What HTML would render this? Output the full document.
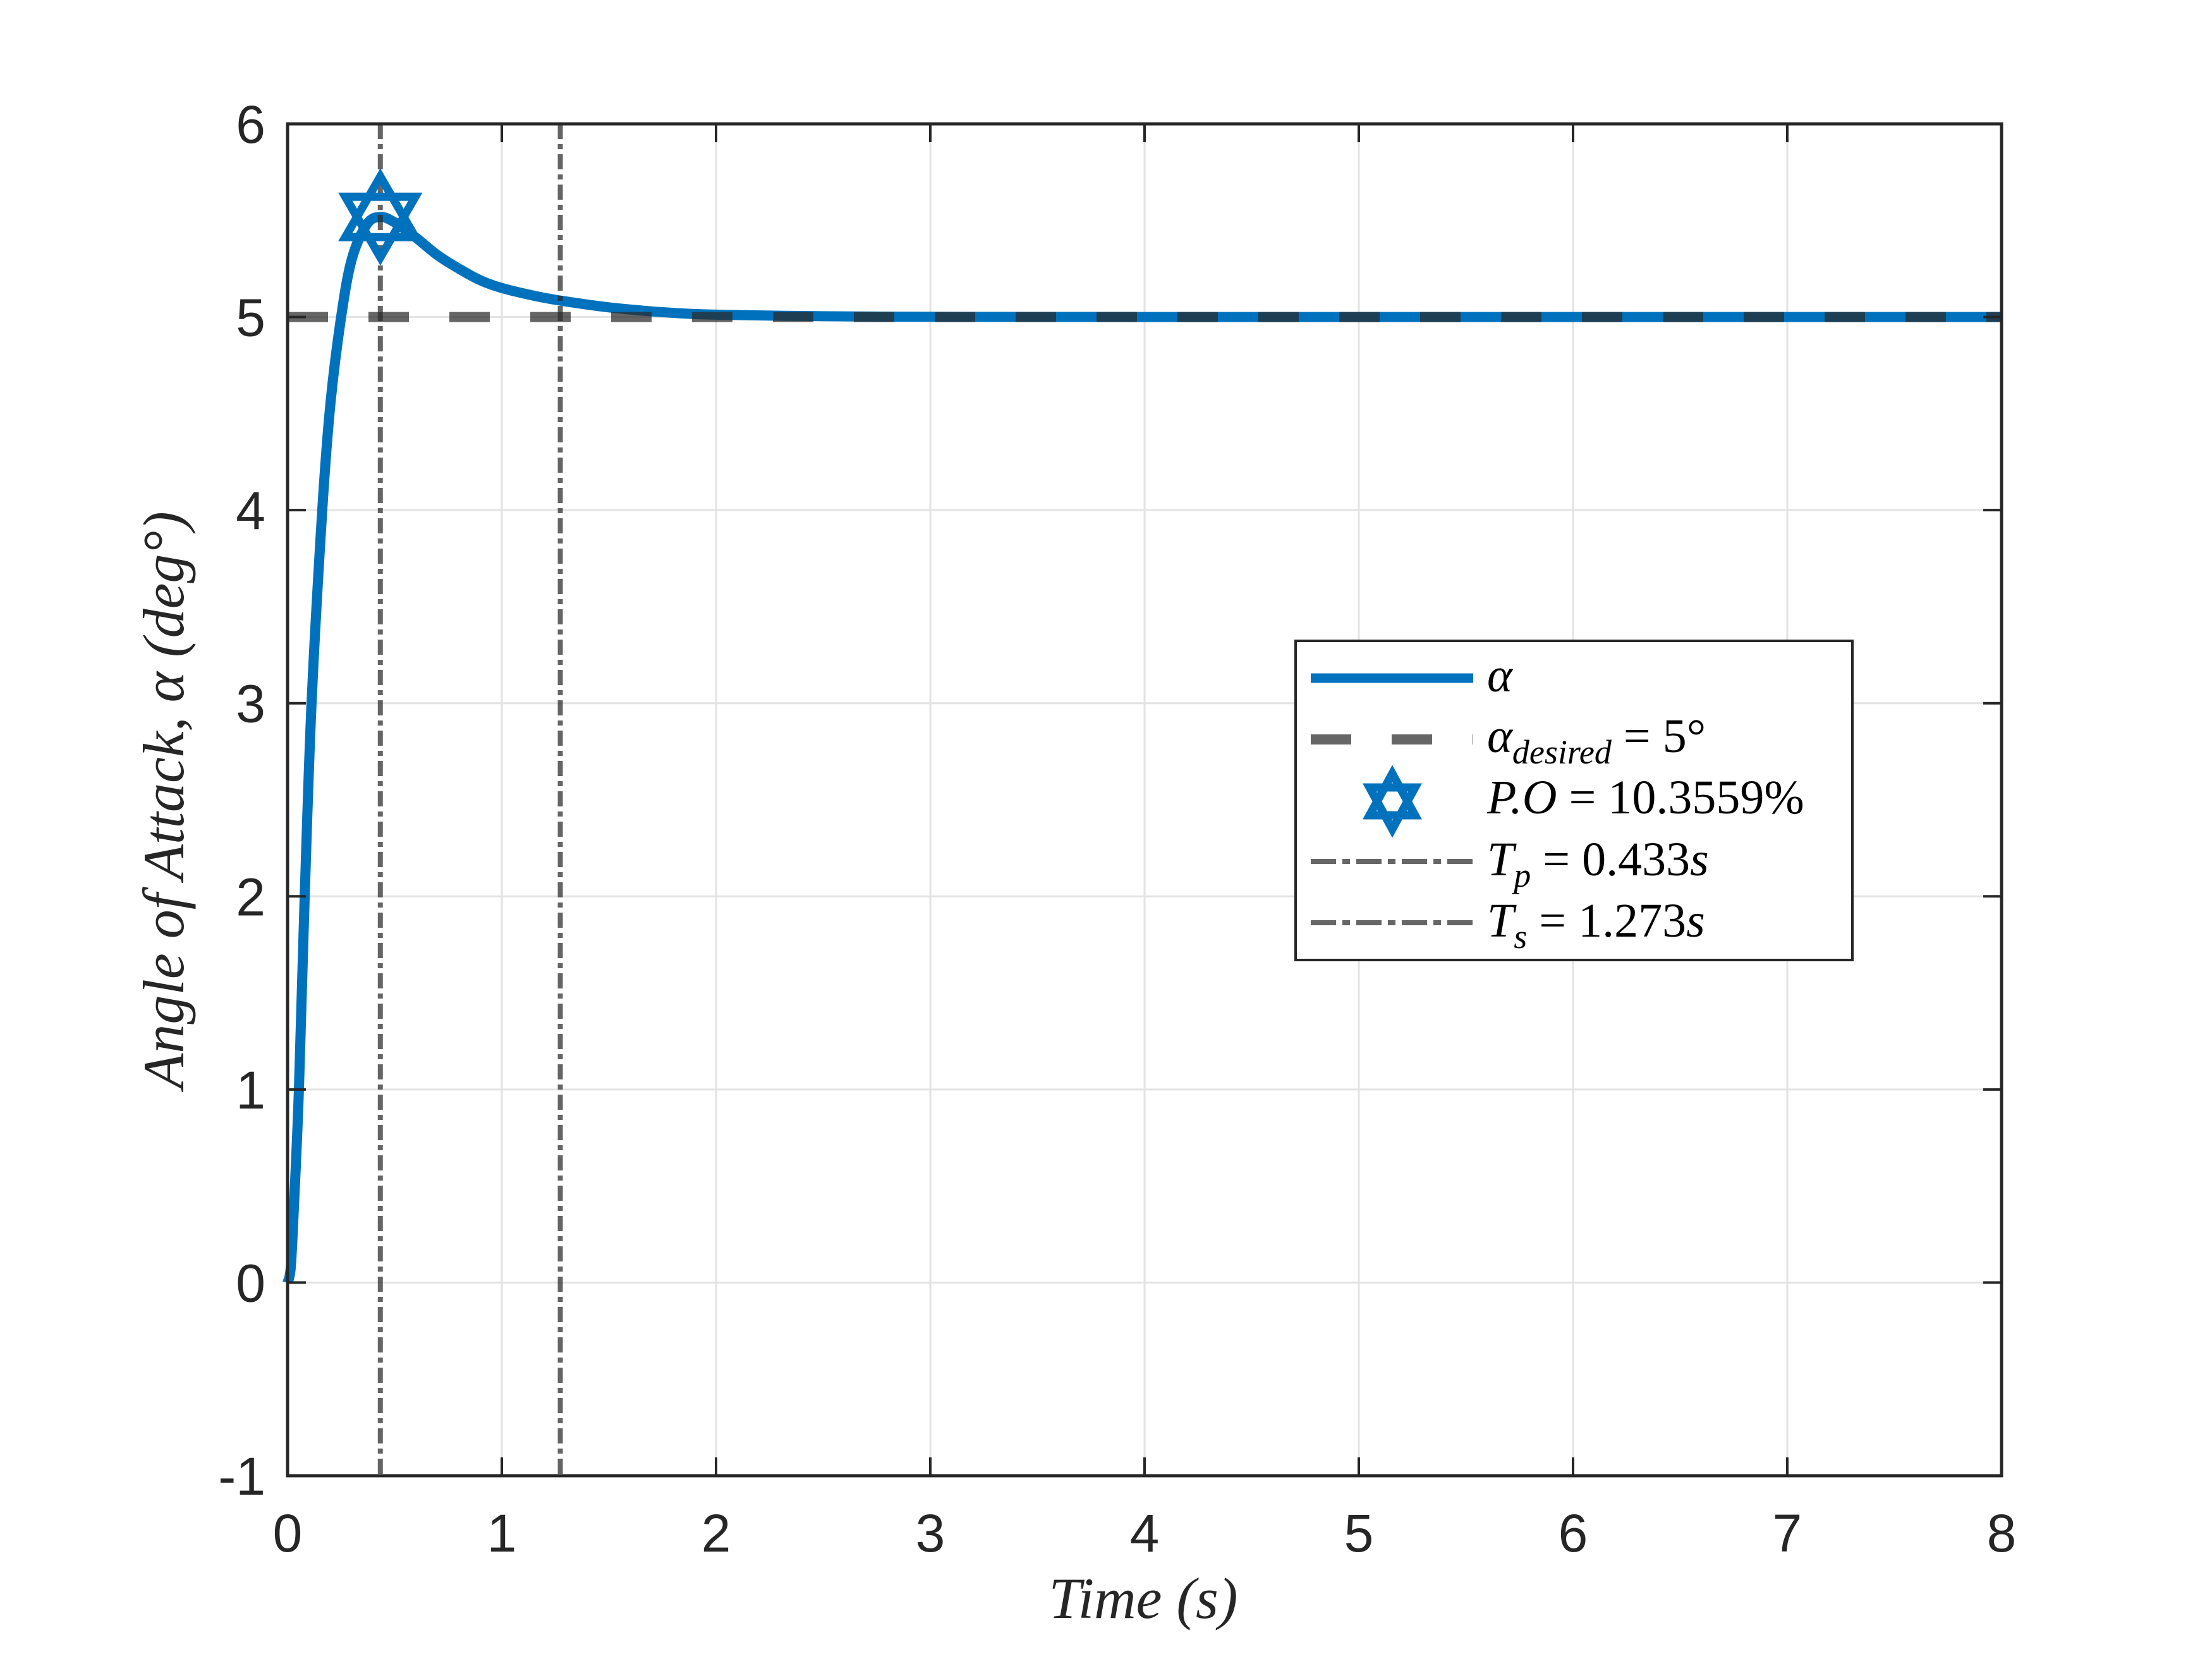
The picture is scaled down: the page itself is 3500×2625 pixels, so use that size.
<!DOCTYPE html>
<html><head><meta charset="utf-8"><style>
html,body{margin:0;padding:0;background:#fff;}
svg{display:block;}
.tick{font-family:"Liberation Sans",Arial,sans-serif;font-size:84px;fill:#262626;}
.lab{font-family:"Liberation Serif",serif;font-style:italic;fill:#262626;}
.leg{font-family:"Liberation Serif",serif;font-size:76px;fill:#000;}
</style></head><body>
<svg id="chart" width="3500" height="2625" viewBox="0 0 3500 2625" xmlns="http://www.w3.org/2000/svg">
<rect x="0" y="0" width="3500" height="2625" fill="#fff"/>
<g id="grid"></g>
<g id="series"></g>
<g id="axes"></g>
<text class="lab" x="1809" y="2560" font-size="92" text-anchor="middle">Time (s)</text>
<text class="lab" transform="translate(290,1266) rotate(-90)" font-size="92" text-anchor="middle">Angle of Attack, α (deg°)</text>
<g>
<rect x="2050" y="1014" width="881" height="505" fill="#fff" stroke="#262626" stroke-width="4"/>
<line x1="2074" y1="1073" x2="2331" y2="1073" stroke="#0072BD" stroke-width="15"/>
<text class="leg" x="2353" y="1094" font-style="italic">α</text>
<line x1="2074" y1="1170" x2="2331" y2="1170" stroke="#666" stroke-width="16" stroke-dasharray="64 64"/>
<text class="leg" x="2353" y="1190"><tspan font-style="italic">α</tspan><tspan font-style="italic" font-size="54" dy="18">desired</tspan><tspan dy="-18"> = 5°</tspan></text>
<g>
<polygon points="2203,1224 2239,1290 2167,1290" fill="none" stroke="#0072BD" stroke-width="13"/>
<polygon points="2203,1312 2239,1246 2167,1246" fill="none" stroke="#0072BD" stroke-width="13"/>
</g>
<text class="leg" x="2353" y="1287"><tspan font-style="italic">P.O</tspan> = 10.3559%</text>
<line x1="2074" y1="1363" x2="2331" y2="1363" stroke="#666" stroke-width="8" stroke-dasharray="40 10 12 10"/>
<text class="leg" x="2353" y="1385"><tspan font-style="italic">T</tspan><tspan font-style="italic" font-size="54" dy="18">p</tspan><tspan dy="-18"> = 0.433</tspan><tspan font-style="italic">s</tspan></text>
<line x1="2074" y1="1460" x2="2331" y2="1460" stroke="#666" stroke-width="8" stroke-dasharray="40 10 12 10"/>
<text class="leg" x="2353" y="1482"><tspan font-style="italic">T</tspan><tspan font-style="italic" font-size="54" dy="18">s</tspan><tspan dy="-18"> = 1.273</tspan><tspan font-style="italic">s</tspan></text>
</g>
</svg>
<script>
const timeS = [0,0.015,0.03,0.053,0.08,0.112,0.162,0.2,0.25,0.3,0.37,0.433,0.5,0.6,0.7,0.8,0.9,1.0,1.15,1.273,1.5,1.75,2.0,2.5,3,4,5,6,7,8];
const alphaDeg = [0,0.08,0.4,1.0,2.0,3.0,4.0,4.55,5.0,5.3,5.48,5.518,5.49,5.41,5.32,5.25,5.19,5.15,5.11,5.085,5.05,5.025,5.012,5.004,5.001,5,5,5,5,5];
const xTicks = [0,1,2,3,4,5,6,7,8];
const yTicks = [-1,0,1,2,3,4,5,6];
const desiredValue = 5;
const peakTime = 0.433, peakValue = 5.518;
const settleTime = 1.273;

const L=455,R=3167,T=196,B=2335;
const X0=0,X1=8,Y0=-1,Y1=6;
const sx=v=>L+(v-X0)/(X1-X0)*(R-L);
const sy=v=>B-(v-Y0)/(Y1-Y0)*(B-T);
const NS="http://www.w3.org/2000/svg";
function mk(tag,attrs,parent){const e=document.createElementNS(NS,tag);for(const k in attrs)e.setAttribute(k,attrs[k]);parent.appendChild(e);return e;}
const grid=document.getElementById('grid'),series=document.getElementById('series'),axes=document.getElementById('axes');

xTicks.forEach(t=>{
  const g=mk('line',{x1:sx(t),x2:sx(t),y1:T,y2:B,stroke:'#e3e3e3','stroke-width':3},grid);
  
  
  const a=mk('line',{x1:sx(t),x2:sx(t),y1:B,y2:B-29,stroke:'#262626','stroke-width':4},axes);
  
  
  const b=mk('line',{x1:sx(t),x2:sx(t),y1:T,y2:T+29,stroke:'#262626','stroke-width':4},axes);
  
  
  const tx=mk('text',{x:sx(t),y:2455,'text-anchor':'middle',class:'tick'},axes);
  tx.textContent=String(t);
  
  
});
yTicks.forEach(v=>{
  const g=mk('line',{x1:L,x2:R,y1:sy(v),y2:sy(v),stroke:'#e3e3e3','stroke-width':3},grid);
  
  
  const a=mk('line',{x1:L,x2:L+29,y1:sy(v),y2:sy(v),stroke:'#262626','stroke-width':4},axes);
  
  
  const b=mk('line',{x1:R,x2:R-29,y1:sy(v),y2:sy(v),stroke:'#262626','stroke-width':4},axes);
  
  
  const tx=mk('text',{x:420,y:sy(v)+30,'text-anchor':'end',class:'tick'},axes);
  tx.textContent=String(v);
  
  
});
const box=mk('rect',{x:L,y:T,width:R-L,height:B-T,fill:'none',stroke:'#262626','stroke-width':5},axes);



const P=timeS.map((t,i)=>[sx(t),sy(alphaDeg[i])]);
let d='M'+P[0][0]+','+P[0][1];
for(let i=0;i<P.length-1;i++){
  const p0=P[Math.max(0,i-1)],p1=P[i],p2=P[i+1],p3=P[Math.min(P.length-1,i+2)];
  const c1=[p1[0]+(p2[0]-p0[0])/6,p1[1]+(p2[1]-p0[1])/6];
  const c2=[p2[0]-(p3[0]-p1[0])/6,p2[1]-(p3[1]-p1[1])/6];
  d+=` C${c1[0]},${c1[1]} ${c2[0]},${c2[1]} ${p2[0]},${p2[1]}`;
}
const curve=mk('path',{d:d,fill:'none',stroke:'#0072BD','stroke-width':16,'stroke-linejoin':'round'},series);



const des=mk('line',{x1:L,x2:R,y1:sy(desiredValue),y2:sy(desiredValue),stroke:'rgb(42,42,42)','stroke-opacity':0.72,'stroke-width':16,'stroke-dasharray':'64 64'},series);



[[peakTime,'peak-time-line'],[settleTime,'settling-time-line']].forEach(([t,n])=>{
  const l=mk('line',{x1:sx(t),x2:sx(t),y1:T,y2:B,stroke:'rgb(42,42,42)','stroke-opacity':0.72,'stroke-width':8,'stroke-dasharray':'24 8 8 8'},series);
  
  
});

const cx=sx(peakTime),cy=sy(peakValue),r=64;
const star=mk('g',{},series);


mk('polygon',{points:`${cx},${cy-r} ${cx+r*0.866},${cy+r/2} ${cx-r*0.866},${cy+r/2}`,fill:'none',stroke:'#0072BD','stroke-width':13},star);
mk('polygon',{points:`${cx},${cy+r} ${cx+r*0.866},${cy-r/2} ${cx-r*0.866},${cy-r/2}`,fill:'none',stroke:'#0072BD','stroke-width':13},star);
</script>
</body></html>
